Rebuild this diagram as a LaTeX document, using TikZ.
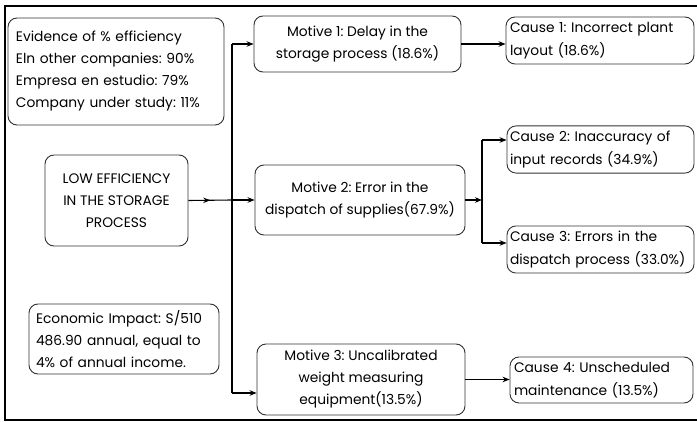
\documentclass[tikz,border=0pt]{standalone}
\usepackage{fontspec}
\setmainfont{Poppins}
\usepackage{tikz}
\usetikzlibrary{arrows.meta, positioning, calc, decorations.markings}
\definecolor{boxline}{RGB}{50,50,50}
\frenchspacing
\tikzset{
  infobox/.style={rectangle, rounded corners=9pt, draw=boxline, line width=0.9pt,
    align=left, font=\fontsize{13.8}{22}\selectfont, inner sep=5pt},
  motivebox/.style={infobox, align=center},
  causebox/.style={infobox, align=left, font=\fontsize{13.8}{23}\selectfont},
  arrow/.style={-{Stealth[length=7pt, width=5.5pt]}, line width=1.1pt, color=black},
  line/.style={line width=1.1pt, color=black},
  midarrow/.style={decoration={markings,
      mark=at position 0.5 with {\arrow{Stealth[length=7pt, width=5.5pt]}}},
    postaction={decorate}}
}
\begin{document}
\begin{tikzpicture}[x=1pt, y=-1pt]
  \useasboundingbox (0,0) rectangle (697,422);
  % frame (cut off at the right)
  \draw[line width=2.4pt] (699,6) -- (5,6) -- (5,420) -- (699,420);

  % left column
  \node[infobox, minimum width=216pt, minimum height=107pt, text width=200pt, inner xsep=8pt] (evid) at (116,71.5)
    {Evidence of \% efficiency\\ Eln other companies: 90\%\\ Empresa en estudio: 79\%\\ Company under study: 11\%};
  \node[motivebox, minimum width=143pt, minimum height=91pt] (low) at (116.5,200.5)
    {LOW EFFICIENCY\\ IN THE STORAGE\\ PROCESS};
  \node[infobox, minimum width=190pt, minimum height=70pt, text width=176pt, inner xsep=7pt] (econ) at (124,339)
    {Economic Impact: S/510\\ 486.90 annual, equal to\\ 4\% of annual income.};

  % motives
  \node[motivebox, minimum width=207pt, minimum height=56pt] (m1) at (357.5,44)
    {Motive 1: Delay in the\\ storage process (18.6\%)};
  \node[motivebox, minimum width=210pt, minimum height=70pt] (m2) at (360,200)
    {Motive 2: Error in the\\ dispatch of supplies(67.9\%)};
  \node[motivebox, minimum width=208pt, minimum height=71pt] (m3) at (361,379.5)
    {Motive 3: Uncalibrated\\ weight measuring\\ equipment(13.5\%)};

  % causes
  \node[causebox, minimum width=188pt, minimum height=47pt, text width=180pt, inner xsep=4pt] (c1) at (600,40.5)
    {Cause 1: Incorrect plant\\ layout (18.6\%)};
  \node[causebox, minimum width=187pt, minimum height=45pt, text width=181pt, inner xsep=3pt] (c2) at (600.5,149.5)
    {Cause 2: Inaccuracy of\\ input records (34.9\%)};
  \node[causebox, minimum width=187pt, minimum height=47pt, text width=181pt, inner xsep=3pt] (c3) at (600.5,249.5)
    {Cause 3: Errors in the\\ dispatch process (33.0\%)};
  \node[causebox, minimum width=183pt, minimum height=46pt, text width=175pt, inner xsep=4pt] (c4) at (601.5,380)
    {Cause 4: Unscheduled\\ maintenance (13.5\%)};

  % trunk to the motives
  \coordinate (t1) at (232,44);
  \coordinate (t2) at (232,200);
  \coordinate (t3) at (232,393);
  \draw[line] (t1) -- (t3);
  \draw[line, midarrow] (low.east) -- (t2);
  \draw[arrow] (t1) -- (m1.west);
  \draw[arrow] (t2) -- (m2.west);
  \draw[arrow] (t3) -- (m3.west |- t3);

  % motives to causes
  \draw[arrow] (m1.east) -- (c1.west |- m1.east);
  \coordinate (b2) at (482,200);
  \coordinate (b1) at (482,140);
  \coordinate (b3) at (482,243);
  \draw[arrow] (m2.east) -- (b2);
  \draw[line] (b1) -- (b3);
  \draw[arrow] (b1) -- (c2.west |- b1);
  \draw[arrow] (b3) -- (c3.west |- b3);
  \draw[arrow] (m3.east) -- (c4.west |- m3.east);
\end{tikzpicture}
\end{document}
